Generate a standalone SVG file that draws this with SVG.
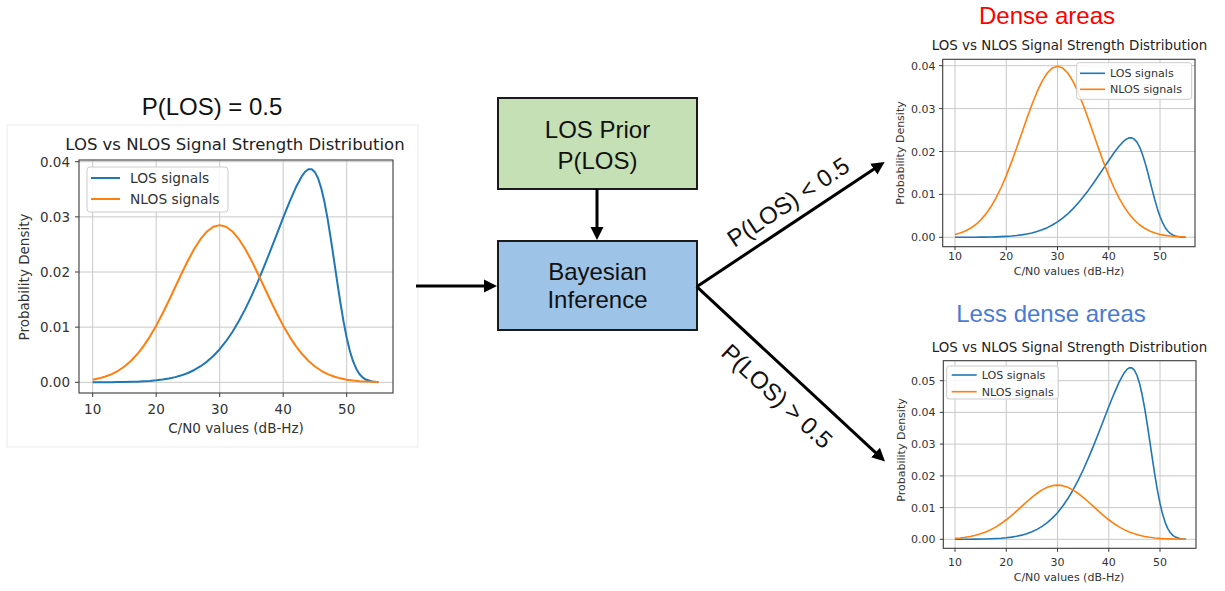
<svg xmlns="http://www.w3.org/2000/svg" xmlns:xlink="http://www.w3.org/1999/xlink" width="1225" height="591" viewBox="0 0 1225 591">
<style>
.dg{font-family:"Liberation Sans",Arial,sans-serif;fill:#111;font-size:24px}
.mp{font-family:"DejaVu Sans",sans-serif;fill:#333}
.ttl{fill:#222}
.grid{stroke:#c8c8c8;stroke-width:1;fill:none}
.ax{fill:none;stroke:#3a3a3a;stroke-width:1.1}
.tick{stroke:#3a3a3a;stroke-width:1}
.leg{fill:#fff;fill-opacity:0.85;stroke:#cccccc;stroke-width:1}
.los{stroke:#1f77b4;fill:none}
.nlos{stroke:#ff7f0e;fill:none}
.curve{vector-effect:non-scaling-stroke;fill:none;stroke-linejoin:round}
.box{stroke:#1a1a1a;stroke-width:2}
.conn{stroke:#000;stroke-width:3;fill:none}
</style>
<defs>
<marker id="ah" markerUnits="userSpaceOnUse" markerWidth="14" markerHeight="14" refX="3" refY="7" orient="auto">
<path d="M0,0.5 L13,7 L0,13.5 z" fill="#000"/>
</marker>
<polyline id="S" class="curve" points="10,0.12 11,0.19 12,0.30 13,0.46 14,0.71 15,1.07 16,1.60 17,2.35 18,3.43 19,4.93 20,7.01 21,9.85 22,13.66 23,18.72 24,25.33 25,33.81 26,44.68 27,58.26 28,75.05 29,95.53 30,119.98 31,148.90 32,182.56 33,221.06 34,264.37 35,312.41 36,364.47 37,420.08 38,478.20 39,537.70 40,597.09 41,654.52 42,707.17 43,749.78 43.5,764.57 44,772.87 44.5,772.74 45,762.14 45.5,739.32 46,703.16 46.5,653.56 47,591.78 47.5,520.42 48,443.27 48.5,364.75 49,289.31 49.5,220.76 50,161.77 50.5,113.67 51,76.49 51.5,49.24 52,30.29 52.5,17.80 53,9.98 54,2.72 55,0.61"/>
<polyline id="N" class="curve" points="10,9.62 11,14.32 12,20.89 13,29.86 14,41.82 15,57.37 16,77.13 17,101.60 18,131.11 19,165.80 20,205.42 21,249.38 22,296.61 23,345.67 24,394.69 25,441.58 26,484.06 27,519.91 28,547.12 29,564.12 30,569.91 31,564.12 32,547.12 33,519.91 34,484.06 35,441.58 36,394.69 37,345.67 38,296.61 39,249.38 40,205.42 41,165.80 42,131.11 43,101.60 44,77.13 45,57.37 46,41.82 47,29.86 48,20.89 49,14.32 50,9.62 51,6.33 52,4.08 53,2.58 54,1.60 55,0.97"/>
</defs>
<rect width="1225" height="591" fill="#fff"/>

<!-- Left chart: P(LOS) = 0.5 -->
<g id="chart-equal">
<text class="dg" x="212" y="115" text-anchor="middle">P(LOS) = 0.5</text>
<rect x="7" y="125" width="411" height="322" fill="#fff" stroke="#ececec" stroke-width="1"/>
<text class="mp ttl" x="235" y="150" text-anchor="middle" font-size="16.5">LOS vs NLOS Signal Strength Distribution</text>
<g class="grid">
<path d="M92.7,160V393M156.2,160V393M219.7,160V393M283.2,160V393M346.7,160V393"/>
<path d="M79,382.3H393M79,327.15H393M79,272H393M79,216.85H393M79,161.7H393"/>
</g>
<use href="#S" class="los" stroke-width="2" transform="translate(29.2,382.3) scale(6.35,-0.27575)"/>
<use href="#N" class="nlos" stroke-width="2" transform="translate(29.2,382.3) scale(6.35,-0.27575)"/>
<rect class="ax" x="79" y="160" width="314" height="233"/>
<path class="tick" d="M75,382.3H79M75,327.15H79M75,272H79M75,216.85H79M75,161.7H79M92.7,393V397M156.2,393V397M219.7,393V397M283.2,393V397M346.7,393V397"/>
<g class="mp" font-size="13.5" text-anchor="end">
<text x="70" y="387.3">0.00</text>
<text x="70" y="332.1">0.01</text>
<text x="70" y="277">0.02</text>
<text x="70" y="221.8">0.03</text>
<text x="70" y="166.7">0.04</text>
</g>
<g class="mp" font-size="13.5" text-anchor="middle">
<text x="92.7" y="414">10</text>
<text x="156.2" y="414">20</text>
<text x="219.7" y="414">30</text>
<text x="283.2" y="414">40</text>
<text x="346.7" y="414">50</text>
<text x="236" y="433">C/N0 values (dB-Hz)</text>
<text transform="translate(29,277) rotate(-90)">Probability Density</text>
</g>
<rect class="leg" x="87" y="167" width="141" height="45" rx="3"/>
<path class="los" stroke-width="2" d="M91,178H120"/>
<path class="nlos" stroke-width="2" d="M91,199H120"/>
<text class="mp" font-size="13.8" x="130" y="183">LOS signals</text>
<text class="mp" font-size="13.8" x="130" y="204">NLOS signals</text>
</g>

<!-- Central nodes -->
<g id="prior">
<rect class="box" x="498" y="98" width="199" height="91" fill="#c5e0b4"/>
<text class="dg" x="597.5" y="138.3" text-anchor="middle">LOS Prior</text>
<text class="dg" x="597.5" y="169" text-anchor="middle">P(LOS)</text>
</g>
<g id="bayes">
<rect class="box" x="498" y="241" width="199" height="89" fill="#9dc3e6"/>
<text class="dg" x="597.5" y="280" text-anchor="middle">Bayesian</text>
<text class="dg" x="597.5" y="308.3" text-anchor="middle">Inference</text>
</g>

<!-- Dense areas chart -->
<g id="chart-dense">
<text class="dg" x="1047" y="24" text-anchor="middle" fill="#ff0000" style="fill:#ff0000">Dense areas</text>
<text class="mp ttl" x="1069.5" y="50" text-anchor="middle" font-size="13.4">LOS vs NLOS Signal Strength Distribution</text>
<g class="grid">
<path d="M955,59.3V246.7M1006.25,59.3V246.7M1057.5,59.3V246.7M1108.75,59.3V246.7M1160,59.3V246.7"/>
<path d="M942.7,237.3H1195M942.7,194.4H1195M942.7,151.5H1195M942.7,108.6H1195M942.7,65.7H1195"/>
</g>
<use href="#S" class="los" stroke-width="1.6" transform="translate(903.75,237.3) scale(5.125,-0.1287)"/>
<use href="#N" class="nlos" stroke-width="1.6" transform="translate(903.75,237.3) scale(5.125,-0.3003)"/>
<rect class="ax" x="942.7" y="59.3" width="252.3" height="187.4"/>
<path class="tick" d="M939.2,237.3H942.7M939.2,194.4H942.7M939.2,151.5H942.7M939.2,108.6H942.7M939.2,65.7H942.7M955,246.7V250.2M1006.25,246.7V250.2M1057.5,246.7V250.2M1108.75,246.7V250.2M1160,246.7V250.2"/>
<g class="mp" font-size="11" text-anchor="end">
<text x="935.5" y="241.3">0.00</text>
<text x="935.5" y="198.4">0.01</text>
<text x="935.5" y="155.5">0.02</text>
<text x="935.5" y="112.6">0.03</text>
<text x="935.5" y="69.7">0.04</text>
</g>
<g class="mp" font-size="11" text-anchor="middle">
<text x="955" y="259.5">10</text>
<text x="1006.25" y="259.5">20</text>
<text x="1057.5" y="259.5">30</text>
<text x="1108.75" y="259.5">40</text>
<text x="1160" y="259.5">50</text>
<text x="1069" y="275">C/N0 values (dB-Hz)</text>
<text transform="translate(904,153) rotate(-90)">Probability Density</text>
</g>
<rect class="leg" x="1076.7" y="62.7" width="115" height="36.6" rx="2.5"/>
<path class="los" stroke-width="1.6" d="M1080,73.3H1105"/>
<path class="nlos" stroke-width="1.6" d="M1080,89.3H1105"/>
<text class="mp" font-size="11.1" x="1110" y="77.3">LOS signals</text>
<text class="mp" font-size="11.1" x="1110" y="93.3">NLOS signals</text>
</g>

<!-- Less dense areas chart -->
<g id="chart-less-dense">
<text class="dg" x="1051" y="321.7" text-anchor="middle" style="fill:#4a7bd4">Less dense areas</text>
<text class="mp ttl" x="1069.5" y="351.7" text-anchor="middle" font-size="13.4">LOS vs NLOS Signal Strength Distribution</text>
<g class="grid">
<path d="M955,360.7V548.3M1006.25,360.7V548.3M1057.5,360.7V548.3M1108.75,360.7V548.3M1160,360.7V548.3"/>
<path d="M943.3,539.3H1196M943.3,507.6H1196M943.3,475.9H1196M943.3,444.1H1196M943.3,412.4H1196M943.3,380.7H1196"/>
</g>
<use href="#S" class="los" stroke-width="1.6" transform="translate(903.75,539.3) scale(5.125,-0.2219)"/>
<use href="#N" class="nlos" stroke-width="1.6" transform="translate(903.75,539.3) scale(5.125,-0.0951)"/>
<rect class="ax" x="943.3" y="360.7" width="252.7" height="187.6"/>
<path class="tick" d="M939.8,539.3H943.3M939.8,507.6H943.3M939.8,475.9H943.3M939.8,444.1H943.3M939.8,412.4H943.3M939.8,380.7H943.3M955,548.3V551.8M1006.25,548.3V551.8M1057.5,548.3V551.8M1108.75,548.3V551.8M1160,548.3V551.8"/>
<g class="mp" font-size="11" text-anchor="end">
<text x="935.5" y="543.3">0.00</text>
<text x="935.5" y="511.6">0.01</text>
<text x="935.5" y="479.9">0.02</text>
<text x="935.5" y="448.1">0.03</text>
<text x="935.5" y="416.4">0.04</text>
<text x="935.5" y="384.7">0.05</text>
</g>
<g class="mp" font-size="11" text-anchor="middle">
<text x="955" y="566">10</text>
<text x="1006.25" y="566">20</text>
<text x="1057.5" y="566">30</text>
<text x="1108.75" y="566">40</text>
<text x="1160" y="566">50</text>
<text x="1069" y="581">C/N0 values (dB-Hz)</text>
<text transform="translate(905,450) rotate(-90)">Probability Density</text>
</g>
<rect class="leg" x="946.7" y="366" width="111.6" height="33" rx="2.5"/>
<path class="los" stroke-width="1.6" d="M951.7,375H976.7"/>
<path class="nlos" stroke-width="1.6" d="M951.7,391.7H976.7"/>
<text class="mp" font-size="11.1" x="981.7" y="379">LOS signals</text>
<text class="mp" font-size="11.1" x="981.7" y="395.7">NLOS signals</text>
</g>

<!-- Connectors -->
<g id="connectors">
<path class="conn" d="M416,286H487" marker-end="url(#ah)"/>
<path class="conn" d="M597,189V230" marker-end="url(#ah)"/>
<path class="conn" d="M696.7,286.7L876.3,167.5" marker-end="url(#ah)"/>
<path class="conn" d="M696.7,286.7L877.7,454.6" marker-end="url(#ah)"/>
<text class="dg" text-anchor="middle" transform="translate(792.7,209) rotate(-33.7)">P(LOS) &lt; 0.5</text>
<text class="dg" text-anchor="middle" transform="translate(771.3,402.2) rotate(42.8)">P(LOS) &gt; 0.5</text>
</g>
</svg>
